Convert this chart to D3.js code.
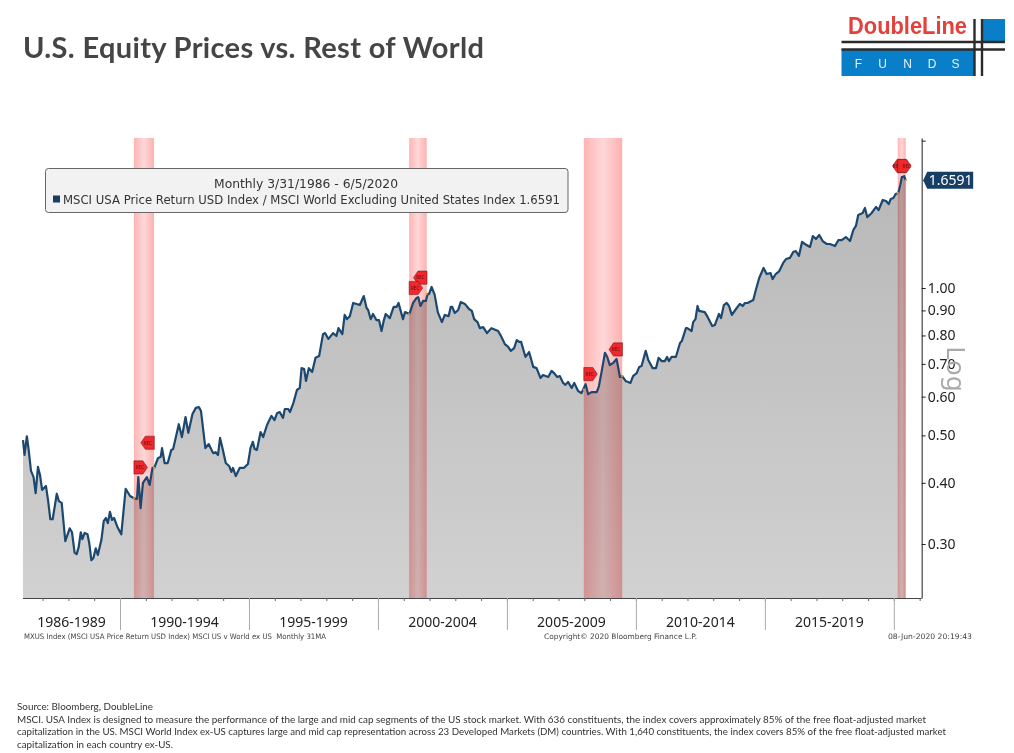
<!DOCTYPE html>
<html><head><meta charset="utf-8">
<script src="https://cdnjs.cloudflare.com/ajax/libs/d3/7.8.5/d3.min.js"></script>
<style>html,body{margin:0;padding:0;background:#fff}svg{display:block}</style>
</head><body><svg id="c" width="1014" height="753"></svg>
<script>
const dates=[1986.24,1986.30,1986.39,1986.46,1986.55,1986.65,1986.73,1986.82,1986.90,1986.98,1987.13,1987.21,1987.30,1987.39,1987.55,1987.63,1987.74,1987.88,1988.05,1988.14,1988.24,1988.32,1988.40,1988.48,1988.54,1988.63,1988.74,1988.81,1988.89,1988.97,1989.06,1989.14,1989.28,1989.37,1989.45,1989.53,1989.61,1989.69,1989.77,1989.90,
1990.05,1990.22,1990.39,1990.54,1990.66,1990.71,1990.80,1990.89,1991.04,1991.15,1991.26,1991.33,1991.47,1991.58,1991.63,1991.73,1991.85,1991.99,1992.06,1992.28,1992.40,1992.54,1992.65,1992.81,1992.94,1993.06,1993.14,1993.31,1993.44,1993.61,1993.71,1993.80,1993.88,1993.99,1994.10,1994.23,1994.32,1994.38,1994.49,1994.64,1994.80,1994.96,
1995.06,1995.15,1995.22,1995.31,1995.45,1995.55,1995.70,1995.87,1995.99,1996.09,1996.19,1996.32,1996.39,1996.52,1996.59,1996.72,1996.86,1996.97,1997.04,1997.14,1997.21,1997.32,1997.45,1997.58,1997.72,1997.87,1997.95,1998.08,1998.26,1998.39,1998.47,1998.62,1998.71,1998.80,1998.91,1999.04,1999.30,1999.45,1999.56,1999.62,1999.72,1999.81,1999.94,
2000.04,2000.14,2000.23,2000.30,2000.46,2000.61,2000.72,2000.80,2000.97,2001.05,2001.22,2001.36,2001.49,2001.56,2001.65,2001.75,2001.86,2001.92,2001.98,2002.08,2002.20,2002.32,2002.48,2002.59,2002.74,2002.82,2002.88,2002.98,2003.11,2003.21,2003.37,2003.53,2003.64,2003.73,2003.86,2003.95,2004.08,2004.23,2004.40,2004.66,2004.79,2004.92,
2005.05,2005.15,2005.28,2005.38,2005.47,2005.55,2005.72,2005.86,2006.02,2006.15,2006.30,2006.40,2006.60,2006.73,2006.83,2006.95,2007.05,2007.18,2007.27,2007.37,2007.51,2007.61,2007.76,2007.89,2008.05,2008.15,2008.28,2008.48,2008.56,2008.67,2008.80,2008.89,2008.99,2009.12,2009.25,2009.31,2009.38,2009.47,2009.60,2009.79,2009.89,
2010.03,2010.13,2010.22,2010.38,2010.48,2010.65,2010.78,2010.88,2011.00,2011.12,2011.21,2011.28,2011.38,2011.55,2011.71,2011.78,2011.94,2011.99,2012.16,2012.22,2012.31,2012.39,2012.45,2012.67,2012.78,2012.96,2013.06,2013.22,2013.30,2013.41,2013.52,2013.61,2013.72,2013.88,2014.03,2014.14,2014.23,2014.33,2014.55,2014.65,2014.78,2014.95,
2015.07,2015.22,2015.30,2015.42,2015.56,2015.71,2015.82,2015.97,2016.10,2016.20,2016.32,2016.44,2016.55,2016.75,2016.86,2016.98,2017.11,2017.24,2017.40,2017.52,2017.72,2017.85,2017.98,2018.14,2018.30,2018.43,2018.53,2018.62,2018.79,2018.88,2018.97,2019.14,2019.31,2019.41,2019.57,2019.70,2019.80,2019.88,2019.98,2020.07,2020.17,2020.25,2020.31,2020.40,2020.46];
const ratio=[.489,.456,.498,.467,.423,.411,.381,.431,.415,.387,.394,.369,.337,.337,.380,.367,.364,.304,.323,.317,.288,.286,.296,.317,.307,.316,.314,.301,.278,.281,.294,.285,.306,.334,.339,.331,.349,.336,.339,.325,
.314,.389,.376,.372,.371,.411,.355,.400,.411,.396,.429,.429,.449,.452,.471,.439,.439,.467,.469,.527,.496,.545,.506,.553,.569,.571,.561,.471,.480,.460,.462,.456,.494,.467,.439,.433,.421,.429,.413,.429,.429,.437,
.471,.485,.469,.467,.508,.496,.525,.548,.537,.555,.558,.543,.566,.566,.558,.582,.619,.625,.686,.683,.646,.686,.674,.720,.726,.805,.809,.787,.809,.798,.828,.805,.881,.864,.876,.932,.923,.963,.910,.902,.864,.885,.860,
.860,.817,.860,.885,.868,.915,.915,.932,.864,.893,.885,.932,.954,.958,.919,.941,.941,.972,.972,1.005,.968,.893,.852,.881,.876,.915,.915,.889,.902,.936,.928,.906,.898,.864,.852,.828,.832,.809,.828,.817,.794,.768,
.758,.744,.754,.783,.776,.776,.723,.740,.690,.686,.655,.664,.658,.677,.670,.658,.661,.640,.634,.643,.625,.640,.616,.610,.636,.607,.613,.613,.628,.674,.737,.723,.696,.703,.716,.690,.658,.661,.646,.640,.661,
.670,.690,.693,.744,.713,.686,.686,.720,.709,.709,.723,.709,.723,.723,.772,.779,.828,.828,.817,.852,.864,.919,.898,.893,.873,.836,.840,.885,.868,.923,.932,.919,.881,.906,.928,.919,.932,.932,.945,.991,1.048,1.099,
1.068,1.073,1.043,1.068,1.083,1.125,1.146,1.152,1.185,1.190,1.163,1.242,1.230,1.213,1.277,1.259,1.283,1.247,1.230,1.230,1.218,1.253,1.253,1.271,1.247,1.314,1.339,1.410,1.423,1.457,1.396,1.423,1.464,1.443,1.513,1.506,1.484,1.520,1.527,1.556,1.564,1.623,1.686,1.692,1.659];
const recessionStart=[1990.54,2001.21,2007.98,2020.15];
const recessionEnd=[1991.32,2001.89,2009.47,2020.46];
const recessionStartRatio=[.372,.885,.620,1.564];
const recessionEndRatio=[.429,.972,.661,1.659];
const markerStartRatio=[.430,1.000,.667,1.775];
const markerEndRatio=[.483,1.050,.749,1.775];
const yTicks=[0.3,0.4,0.5,0.6,0.7,0.8,0.9,1.0,2.0];
const yLabels=["0.30","0.40","0.50","0.60","0.70","0.80","0.90","1.00",""];
const minorYears=d3.range(1987,2022);
const majorYears=[1990,1995,2000,2005,2010,2015,2020];
const periods=["1986-1989","1990-1994","1995-1999","2000-2004","2005-2009","2010-2014","2015-2019"];
const periodFrom=[1986.24,1990,1995,2000,2005,2010,2015];
const periodTo=[1990,1995,2000,2005,2010,2015,2020];
const lastValue="1.6591";
const footer=["Source: Bloomberg, DoubleLine",
"MSCI. USA Index is designed to measure the performance of the large and mid cap segments of the US stock market. With 636 constituents, the index covers approximately 85% of the free float-adjusted market",
"capitalization in the US. MSCI World Index ex-US captures large and mid cap representation across 23 Developed Markets (DM) countries. With 1,640 constituents, the index covers 85% of the free float-adjusted market",
"capitalization in each country ex-US."];

const svg=d3.select("#c");
const W={l:23,r:921.7,t:138,b:598};
const x=d3.scaleLinear().domain([1986.24,2021.08]).range([W.l,W.r]);
const y=d3.scaleLog().domain([2.025,.2327]).range([W.t,W.b]);
const pts=dates.map((d,i)=>[d,ratio[i]]);
const defs=svg.append("defs");
const g=defs.append("linearGradient").attr("id","fill").attr("gradientUnits","userSpaceOnUse").attr("x1",0).attr("x2",0).attr("y1",175).attr("y2",W.b);
g.append("stop").attr("offset",0).attr("stop-color","#b8b8b8");
g.append("stop").attr("offset",1).attr("stop-color","#d1d1d1");
const rg=defs.append("linearGradient").attr("id","rec");
[[0,"#ffb4b4"],[.5,"#ffd8d8"],[1,"#ffb0b0"]].forEach(s=>rg.append("stop").attr("offset",s[0]).attr("stop-color",s[1]));

svg.append("path").datum(pts).attr("fill","url(#fill)")
 .attr("d",d3.area().x(d=>x(d[0])).y0(W.b).y1(d=>y(d[1])));
svg.append("g").style("mix-blend-mode","multiply").selectAll("rect").data(recessionStart).join("rect")
 .attr("x",d=>x(d)).attr("width",(d,i)=>x(recessionEnd[i])-x(d)).attr("y",W.t).attr("height",W.b-W.t).attr("fill","url(#rec)");
svg.append("path").datum(pts).attr("fill","none").attr("stroke","#1c4870").attr("stroke-width",2.2).attr("stroke-linejoin","round")
 .attr("d",d3.line().x(d=>x(d[0])).y(d=>y(d[1])));
const dotD=recessionStart.map((d,i)=>[d,recessionStartRatio[i]]).concat(recessionEnd.map((d,i)=>[d,recessionEndRatio[i]]));
svg.append("g").selectAll("circle").data(dotD).join("circle").attr("cx",d=>x(d[0])).attr("cy",d=>y(d[1])).attr("r",1.1).attr("fill","#e8a030");

const font="'Noto Sans',sans-serif";
const ay=svg.append("g").attr("transform",`translate(${W.r},0)`)
 .call(d3.axisRight(y).tickValues(yTicks).tickSize(4).tickSizeOuter(0).tickPadding(2).tickFormat((d,i)=>yLabels[i]));
ay.select(".domain").attr("stroke","#444").attr("stroke-width",1.2);
ay.selectAll("line").attr("stroke","#222");
ay.selectAll("text").attr("font-family",font).attr("font-size",14).attr("fill","#222");
const ax=svg.append("g").attr("transform",`translate(0,${W.b})`)
 .call(d3.axisBottom(x).tickValues(minorYears).tickSize(3).tickFormat(""));
ax.select(".domain").attr("stroke","#444").attr("stroke-width",1.2).attr("d",`M${W.l},0.5H${W.r}`);
ax.selectAll("line").attr("stroke","#666");
const aM=svg.append("g").attr("transform",`translate(0,${W.b})`)
 .call(d3.axisBottom(x).tickValues(majorYears).tickSize(32).tickFormat(""));
aM.select(".domain").remove();
aM.selectAll("line").attr("stroke","#aaa");
svg.append("g").selectAll("text").data(periods).join("text")
 .attr("x",(d,i)=>x((periodFrom[i]+periodTo[i])/2)).attr("y",627).attr("text-anchor","middle")
 .attr("font-family",font).attr("font-size",14).attr("fill","#222").text(d=>d);

svg.append("text").attr("transform",`translate(947,369) rotate(90)`).attr("text-anchor","middle")
 .attr("font-family",font).attr("font-size",26).attr("fill","#aaa").text("Log");

const ly=y(+lastValue);
svg.append("path").attr("d",`M${W.r+1.5},${ly} l4,-8.5 h46 v17 h-46 z`).attr("fill","#173f66");
svg.append("text").attr("x",W.r+7).attr("y",ly+5).attr("font-family",font).attr("font-size",14).attr("fill","#fff").text(lastValue);

function marker(xs,v,dir,off){
 const cy=y(v),h=6.6,w=13.5,gp=svg.append("g");
 const p=dir>0?[[0,-h],[w-4.5,-h],[w,0],[w-4.5,h],[0,h]]:[[0,-h],[-w+4.5,-h],[-w,0],[-w+4.5,h],[0,h]];
 gp.append("polygon").attr("points",p.map(q=>[xs+q[0],cy+q[1]].join(",")).join(" ")).attr("fill","#f0282d").attr("stroke","#5a1010").attr("stroke-width",.5);
 gp.append("text").attr("x",xs+dir*off).attr("y",cy+1.8).attr("text-anchor","middle").attr("font-family",font).attr("font-size",4.6).attr("fill","#6a0a0a").text("REC");
}
recessionEnd.forEach((d,i)=>marker(x(d)+0.3,markerEndRatio[i],-1,i==3?9:6.5));
recessionStart.forEach((d,i)=>marker(x(d),markerStartRatio[i],1,i==3?9:6));

svg.append("rect").attr("x",45.5).attr("y",168.5).attr("width",522.5).attr("height",44).attr("rx",3).attr("fill","#f2f2f2").attr("stroke","#666");
svg.append("text").attr("x",306).attr("y",188).attr("text-anchor","middle").attr("font-family","'DejaVu Sans',sans-serif").attr("font-size",12).attr("fill","#333").attr("textLength",184).attr("lengthAdjust","spacingAndGlyphs").text("Monthly 3/31/1986 - 6/5/2020");
svg.append("rect").attr("x",53).attr("y",195.5).attr("width",7).attr("height",7).attr("fill","#173f66");
svg.append("text").attr("x",63).attr("y",203.5).attr("font-family","'DejaVu Sans',sans-serif").attr("font-size",12).attr("fill","#333").attr("textLength",497).attr("lengthAdjust","spacingAndGlyphs").text("MSCI USA Price Return USD Index / MSCI World Excluding United States Index 1.6591");

svg.append("text").attr("x",23).attr("y",58).attr("font-family","Lato,sans-serif").attr("font-weight",700).attr("font-size",29).attr("fill","#454545").attr("textLength",461).attr("lengthAdjust","spacing").text("U.S. Equity Prices vs. Rest of World");

const sf="'DejaVu Sans',sans-serif";
[["MXUS Index (MSCI USA Price Return USD Index) MSCI US v World ex US  Monthly 31MA",24,302],["Copyright\u00a9 2020 Bloomberg Finance L.P.",544,153],["08-Jun-2020 20:19:43",888,84]].forEach(t=>{
 svg.append("text").attr("x",t[1]).attr("y",639).attr("xml:space","preserve").attr("font-family",sf).attr("font-size",7.5).attr("fill","#444").attr("textLength",t[2]).attr("lengthAdjust","spacingAndGlyphs").text(t[0]);
});

const fy=[710,723,735,748],fl=[136,909,929,156];
svg.append("g").selectAll("text").data(footer).join("text").attr("x",17).attr("y",(d,i)=>fy[i]).attr("font-family","Lato,sans-serif").attr("font-size",10).attr("fill","#333")
 .attr("textLength",(d,i)=>fl[i]).attr("lengthAdjust","spacingAndGlyphs").text(d=>d);

const lg=svg.append("g");
lg.append("rect").attr("x",841.5).attr("y",49).attr("width",132.5).attr("height",27).attr("fill","#0a7fc9");
lg.append("rect").attr("x",982).attr("y",19).attr("width",23).attr("height",23).attr("fill","#0a7fc9");
lg.append("text").attr("x",848).attr("y",34).attr("font-family","'Liberation Sans',sans-serif").attr("font-weight",700).attr("font-size",23).attr("fill","#e5403a").attr("textLength",119).attr("lengthAdjust","spacingAndGlyphs").text("DoubleLine");
["F","U","N","D","S"].forEach((c,i)=>lg.append("text").attr("x",[858.5,882.5,907.5,932,955.5][i]).attr("y",68).attr("text-anchor","middle").attr("font-family","'Liberation Sans',sans-serif").attr("font-size",12).attr("fill","#e8f4fc").text(c));
[[841.5,42,1005,42],[841.5,49.5,1005,49.5],[974.5,19,974.5,76],[982,19,982,76]].forEach(l=>lg.append("line").attr("x1",l[0]).attr("y1",l[1]).attr("x2",l[2]).attr("y2",l[3]).attr("stroke","#2b2b2b").attr("stroke-width",2.4));
</script></body></html>
